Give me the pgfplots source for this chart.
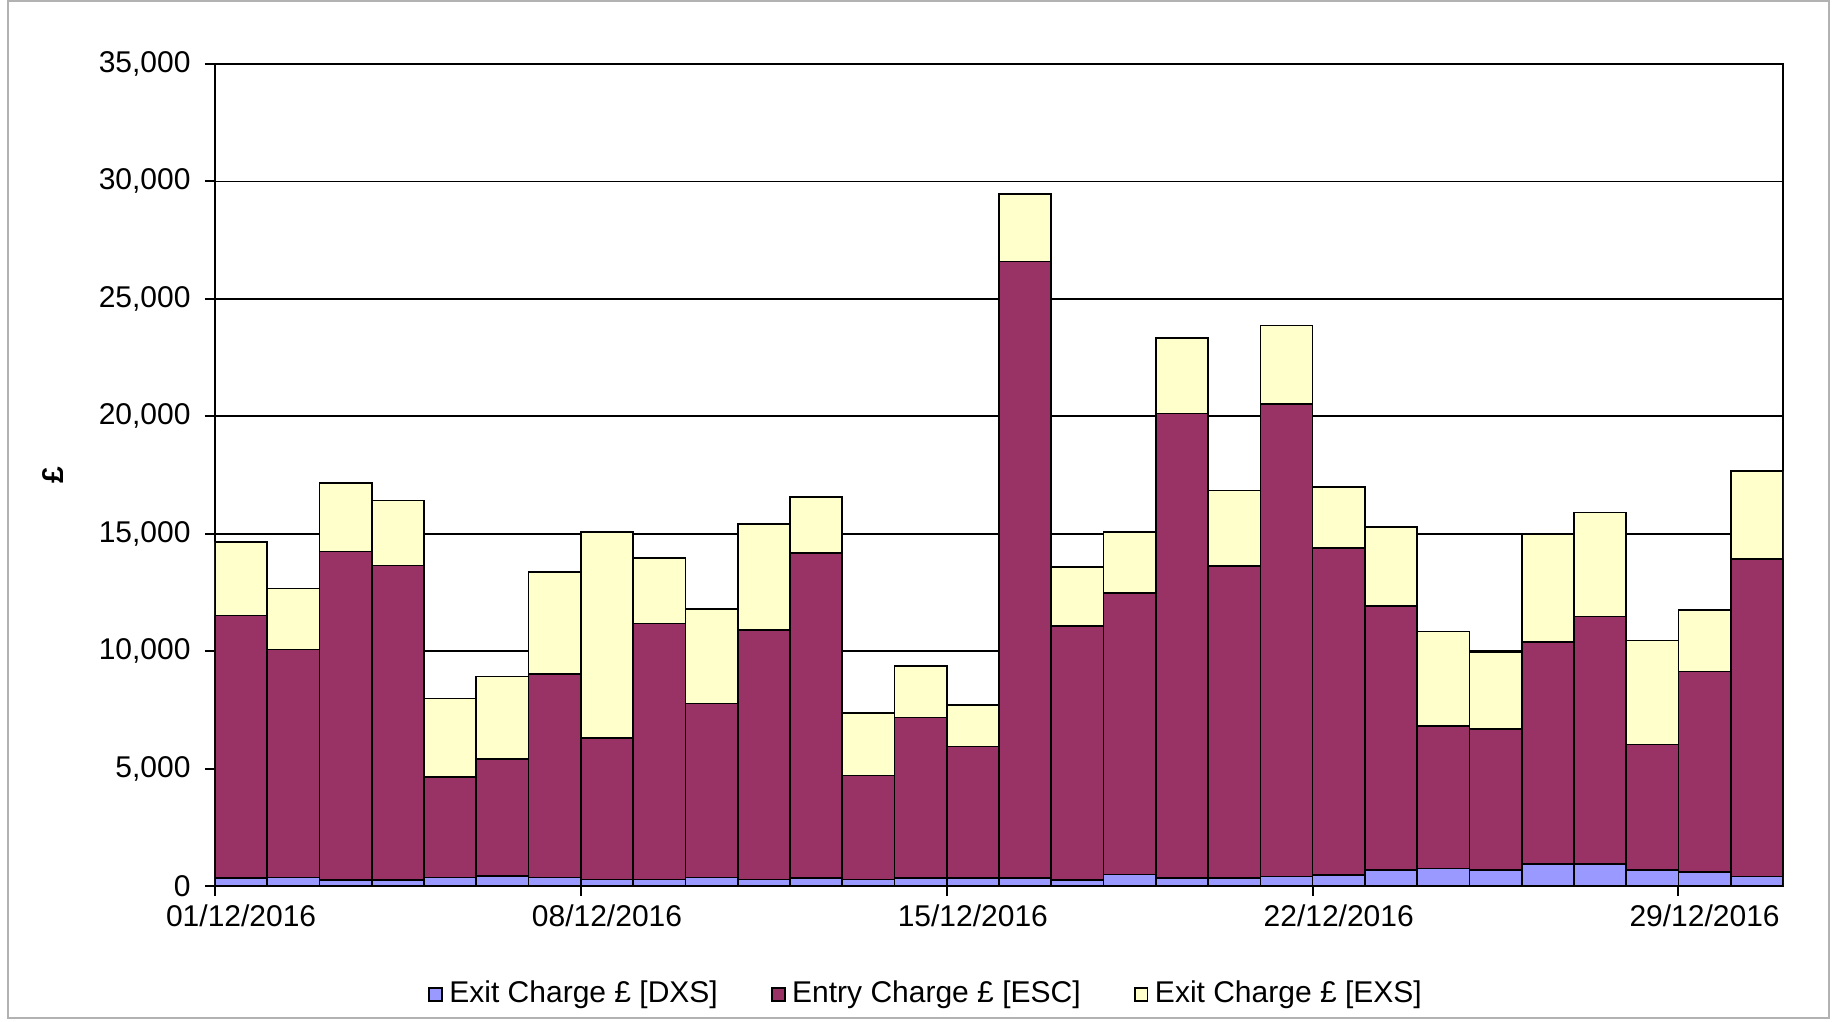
\documentclass[border=0pt]{standalone}
\usepackage{fontspec}
\setmainfont{Liberation Sans}
\usepackage{pgfplots}
\pgfplotsset{compat=1.18}
\definecolor{cdxs}{HTML}{9999FF}
\definecolor{cesc}{HTML}{993366}
\definecolor{cexs}{HTML}{FFFFCC}
\begin{document}
\begin{tikzpicture}
\path (-64.5pt,-40.2pt) rectangle (486.6pt,265.8pt);
\draw[black!30, line width=0.7pt] (-62.1pt,-39.6pt) rectangle (484.2pt,265.4pt);
\begin{axis}[
  name=ax, at={(0pt,0pt)}, anchor=south west,
  scale only axis, width=470.4pt, height=246.6pt,
  ybar stacked, bar width=1,
  xmin=0.5, xmax=30.5, ymin=0, ymax=35000,
  axis line style={black, line width=0.6pt},
  tick align=outside, xtick pos=bottom, ytick pos=left,
  xtick={0.5,7.5,14.5,21.5,28.5}, xticklabels={},
  major tick length=3pt,
  tick style={black, line width=0.6pt},
  extra x ticks={1,8,15,22,29},
  extra x tick labels={01/12/2016,08/12/2016,15/12/2016,22/12/2016,29/12/2016},
  extra x tick style={major tick length=0pt, grid=none},
  ytick={0,5000,...,35000},
  ymajorgrids, grid style={black, line width=0.5pt},
  scaled y ticks=false,
  /pgf/number format/.cd, 1000 sep={,}, assume math mode=true, /pgfplots/.cd,
  ticklabel style={font=\fontsize{9}{11}\selectfont},
  yticklabel style={xshift=-0.8pt},
  xticklabel style={yshift=-2pt},
  ylabel={\textbf{£}}, ylabel style={font=\fontsize{9}{11}\selectfont, at={(axis description cs:-0.103,0.5)}, anchor=center},
  legend style={draw=none, fill=none, at={(axis description cs:0.455,-0.132)}, anchor=center,
    font=\fontsize{9}{11}\selectfont, legend columns=3,
    /tikz/every even column/.append style={column sep=14pt}},
  legend image code/.code={\draw[#1, line width=0.5pt] (0pt,-1.9pt) rectangle (3.8pt,1.9pt);},
  every axis plot/.append style={draw=black, line width=0.5pt},
]
\addplot[fill=cdxs] coordinates {
(1,340) (2,360) (3,270) (4,270) (5,360) (6,430) (7,360) (8,280) (9,280) (10,360)
(11,280) (12,340) (13,280) (14,350) (15,350) (16,350) (17,270) (18,490) (19,350) (20,350)
(21,410) (22,470) (23,690) (24,750) (25,690) (26,940) (27,940) (28,690) (29,610) (30,410)};
\addplot[fill=cesc] coordinates {
(1,11180) (2,9710) (3,13980) (4,13370) (5,4280) (6,4970) (7,8660) (8,6010) (9,10900) (10,7410)
(11,10630) (12,13840) (13,4420) (14,6830) (15,5590) (16,26240) (17,10790) (18,11980) (19,19770) (20,13280)
(21,20120) (22,13920) (23,11230) (24,6050) (25,6000) (26,9450) (27,10530) (28,5330) (29,8530) (30,13510)};
\addplot[fill=cexs] coordinates {
(1,3130) (2,2600) (3,2920) (4,2780) (5,3340) (6,3520) (7,4350) (8,8780) (9,2780) (10,4020)
(11,4500) (12,2380) (13,2660) (14,2190) (15,1770) (16,2880) (17,2510) (18,2610) (19,3210) (20,3210)
(21,3330) (22,2610) (23,3370) (24,4040) (25,3270) (26,4570) (27,4430) (28,4430) (29,2610) (30,3750)};
\legend{Exit Charge £ [DXS], Entry Charge £ [ESC], Exit Charge £ [EXS]}
\end{axis}
\end{tikzpicture}
\end{document}
